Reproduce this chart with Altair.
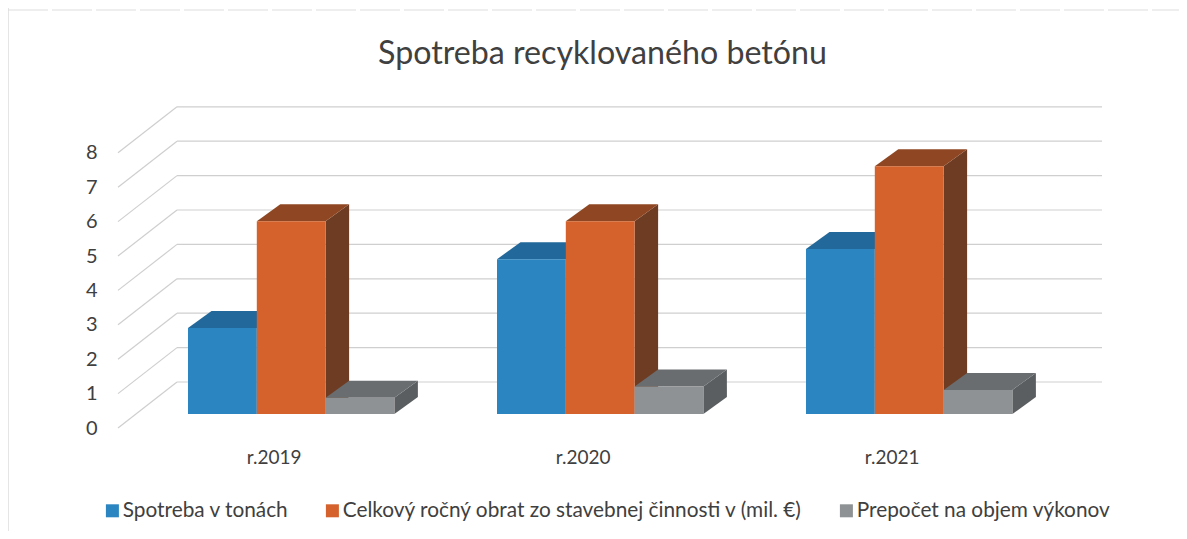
import altair as alt
import pandas as pd

title_text = "Spotreba recyklovaného betónu"
categories = ["r.2019", "r.2020", "r.2021"]
series = ["Spotreba v tonách", "Celkový ročný obrat zo stavebnej činnosti v (mil. €)", "Prepočet na objem výkonov"]
spotreba = [2.5, 4.5, 4.8]
obrat = [5.6, 5.6, 7.2]
prepocet = [0.47, 0.8, 0.7]
y_ticks = [0, 1, 2, 3, 4, 5, 6, 7, 8]

front_colors = ["#2A85C0", "#D5622C", "#8E9294"]
top_colors = ["#22689A", "#8F4723", "#6A6D70"]
side_colors = ["#1D5A85", "#6E3C22", "#5B5E60"]
text_color = "#404040"
grid_color = "#CFCFCF"
frame_color = "#DDDDDD"

# geometry, in the units of the x scale (pixels) and y scale (axis units)
W, H = 1061, 344
PER_UNIT = H / 10
wall_dx, wall_dy = 59, 46 / PER_UNIT
first_bar, group_step, bar_w = 70, 309, 68.8
bar_dx, bar_dy = 23.5, 17 / PER_UNIT
base = 14 / PER_UNIT

xs = alt.Scale(domain=[0, W], nice=False, zero=False)
ys = alt.Scale(domain=[0, 10], nice=False, zero=False)
y_axis = alt.Axis(values=y_ticks, domain=False, ticks=False, grid=False, labelPadding=21, labelFont="Lato",
                  labelFontSize=20, labelColor=text_color, format="d", title=None)
X = lambda f: alt.X(f, type="quantitative", scale=xs, axis=None)
Y = lambda f: alt.Y(f, type="quantitative", scale=ys, stack=None, axis=y_axis, title=None)

grid = pd.DataFrame({"v": y_ticks})
grid["x0"], grid["x1"], grid["x2"] = 0, wall_dx, wall_dx + 925
grid["vb"] = grid["v"] + wall_dy

frame_v = pd.DataFrame({"x": [-110], "y": [-3.0], "y2": [12.5]})
frame_h = pd.DataFrame({"x": [-110], "x2": [W], "y": [(428 - 10) / PER_UNIT]})

layers = [
    alt.Chart(frame_v).mark_rule(color=frame_color, strokeWidth=1.5, clip=False).encode(
        x=X("x"), y=Y("y"), y2="y2"),
    alt.Chart(frame_h).mark_rule(color=frame_color, strokeWidth=1, strokeDash=[40, 4]).encode(
        x=X("x"), x2="x2", y=Y("y")),
    alt.Chart(grid).mark_rule(color=grid_color, strokeWidth=1.2).encode(
        x=X("x0"), x2="x1", y=Y("v"), y2="vb"),
    alt.Chart(grid).mark_rule(color=grid_color, strokeWidth=1.2).encode(x=X("x1"), x2="x2", y=Y("vb")),
]

for s, (name, vals) in enumerate(zip(series, [spotreba, obrat, prepocet])):
    side, top, front = [], [], []
    for g, v in enumerate(vals):
        L = first_bar + g * group_step + s * bar_w
        R = L + bar_w
        t = base + v
        side += [dict(g=g, x=R, y=t, y2=base), dict(g=g, x=R + bar_dx, y=t + bar_dy, y2=base + bar_dy)]
        top += [dict(g=g, x=L, y=t, y2=t), dict(g=g, x=L + bar_dx, y=t + bar_dy, y2=t),
                dict(g=g, x=R, y=t + bar_dy, y2=t), dict(g=g, x=R + bar_dx, y=t + bar_dy, y2=t + bar_dy)]
        front += [dict(s=name, x=L, x2=R, y=t, y2=base)]
    layers.append(alt.Chart(pd.DataFrame(side)).mark_area(color=side_colors[s], orient="vertical").encode(
        x=X("x"), y=Y("y"), y2="y2", detail="g:N"))
    layers.append(alt.Chart(pd.DataFrame(top)).mark_area(color=top_colors[s], orient="vertical").encode(
        x=X("x"), y=Y("y"), y2="y2", detail="g:N"))
    layers.append(alt.Chart(pd.DataFrame(front)).mark_bar().encode(
        x=X("x"), x2="x2", y=Y("y"), y2="y2",
        color=alt.Color("s:N", scale=alt.Scale(domain=series, range=front_colors), legend=alt.Legend(
            title=None, orient="none", legendX=-16, legendY=416, direction="horizontal", columns=3,
            symbolType="square", symbolSize=169, symbolStrokeWidth=0, labelFont="Lato", labelFontSize=20.8,
            labelColor=text_color, labelLimit=600, columnPadding=33, labelOffset=0, padding=0))))

labels = pd.DataFrame({"c": categories,
                       "x": [first_bar + g * group_step + 1.5 * bar_w - 17 for g in range(3)]})
layers.append(alt.Chart(labels).mark_text(font="Lato", fontSize=19, color=text_color).encode(
    x=X("x"), y=alt.value(374), text="c:N"))

chart = alt.layer(*layers).properties(
    width=W, height=H,
    title=alt.TitleParams(title_text, font="Lato", fontSize=32.2, fontWeight="normal", color=text_color,
                          anchor="middle", dx=-46, offset=-74),
    padding={"left": 110, "top": 76, "right": 0, "bottom": 103},
    autosize=alt.AutoSizeParams(type="none"),
).configure_view(stroke=None)

chart.save("out.html", embed_options={"renderer": "svg", "actions": False})
